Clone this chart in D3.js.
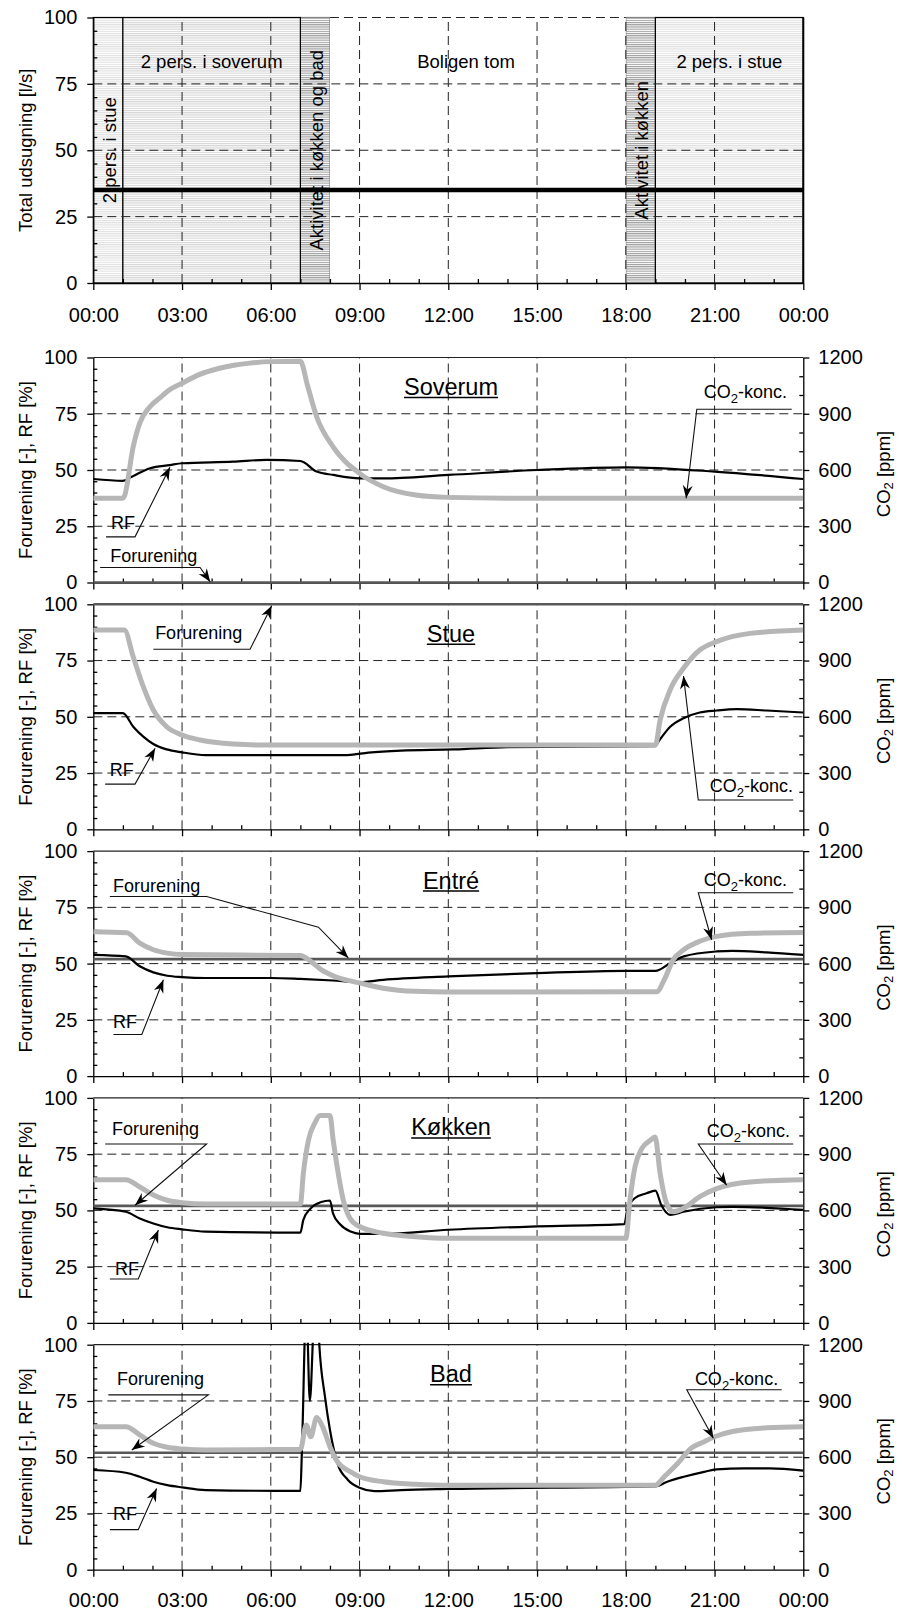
<!DOCTYPE html>
<html>
<head>
<meta charset="utf-8">
<script src="https://cdn.jsdelivr.net/npm/d3@7"></script>
<style>
    body { margin: 0; background: #fff; }
    text { font-family: "Liberation Sans", Arial, sans-serif; fill: #000; }
</style>
</head>
<body>
<div id="chart"></div>
<script>
// ---- data ----
// top panel: activity periods (hours) and total exhaust [l/s]
const activities = [
    { from: 7, to: 8, label: "Aktivitet i køkken og bad", kind: "activity", vertical: true },
    { from: 18, to: 19, label: "Aktivitet i køkken", kind: "activity", vertical: true },
    { from: 0, to: 1, label: "2 pers. i stue", kind: "stue", vertical: true },
    { from: 1, to: 7, label: "2 pers. i soverum", kind: "soverum", vertical: false },
    { from: 8, to: 18, label: "Boligen tom", kind: "empty", vertical: false },
    { from: 19, to: 24, label: "2 pers. i stue", kind: "stue", vertical: false },
]
const totalFlow = [[0, 35], [24, 35]]

const rooms = ["Soverum", "Stue", "Entré", "Køkken", "Bad"]

// [hour, ppm]
const soverumCO2 = [[0, 450], [1, 450], [1.05, 460], [1.35, 725], [1.57, 850], [1.9, 935], [2.25, 985], [2.6, 1030], [3, 1063],
    [3.6, 1110], [4.2, 1140], [4.8, 1160], [5.3, 1170], [6, 1178], [7, 1180], [7.25, 1045], [7.55, 884], [8.1, 725], [9, 582],
    [9.8, 511], [10.9, 467], [12, 454], [14, 450], [24, 450]]
const stueCO2 = [[0, 1063], [1.05, 1063], [1.35, 920], [1.69, 761], [2.03, 636], [2.48, 547], [3, 503], [3.61, 476], [4.73, 455],
    [6, 449], [12, 449], [19, 449], [19.16, 583], [19.5, 744], [19.95, 859], [20.5, 956], [21.07, 1001], [22.2, 1045], [24, 1063]]
const entreCO2 = [[0, 770], [1.13, 765], [1.57, 709], [2.03, 674], [2.5, 656], [3, 648], [7, 643], [7.35, 612], [7.7, 568],
    [8.15, 532], [9, 497], [9.8, 469], [10.9, 452], [12, 448], [19.05, 450], [19.3, 514], [19.6, 620], [19.96, 674], [20.5, 719],
    [21.07, 745], [22.2, 762], [24, 766]]
const kokkenCO2 = [[0, 764], [1.1, 764], [1.57, 725], [2.03, 682], [2.5, 654], [3, 641], [3.8, 634], [7, 634], [7.1, 797],
    [7.27, 973], [7.5, 1070], [7.66, 1106], [8, 1106], [8.11, 973], [8.28, 797], [8.45, 655], [8.68, 557], [9, 514], [9.8, 478],
    [10.9, 460], [12, 451], [18, 451], [18.14, 655], [18.31, 832], [18.54, 929], [18.82, 973], [18.99, 991], [19.16, 797],
    [19.38, 637], [19.61, 593], [19.95, 611], [20.5, 673], [21.07, 716], [22.2, 752], [24, 764]]
const badCO2 = [[0, 763], [1.1, 763], [1.57, 719], [2.03, 674], [2.5, 653], [3, 644], [3.8, 638], [7, 642], [7.2, 772],
    [7.35, 709], [7.55, 812], [7.75, 763], [8, 656], [8.25, 576], [8.7, 522], [9, 496], [9.8, 469], [10.9, 456], [12, 451],
    [19, 451], [19.3, 496], [19.75, 566], [20.2, 647], [20.65, 683], [21.07, 713], [21.6, 737], [22.76, 757], [24, 763]]

// [hour, RF %]
const soverumRF = [[0, 46.0], [1, 45.2], [1.3, 47.0], [1.92, 50.8], [2.59, 52.2], [3, 53.0], [4.73, 53.7], [5.86, 54.5], [7, 54.0],
    [7.55, 49.3], [8.11, 47.8], [9, 46.3], [9.8, 46.3], [12, 47.8], [15, 50.0], [18, 51.2], [21, 49.3], [24, 46.0]]
const stueRF = [[0, 51.6], [1, 51.6], [1.35, 45.6], [1.69, 41.2], [2.03, 37.9], [2.48, 35.5], [3, 34.2], [3.8, 33.0], [6, 33.0],
    [8.6, 33.0], [9.3, 34.1], [10.4, 35.0], [12.2, 35.5], [14, 36.5], [19, 37.0], [19.1, 38.9], [19.5, 45.6], [19.95, 49.4],
    [20.5, 51.9], [21.07, 52.8], [21.75, 53.4], [22.76, 52.8], [24, 51.9]]
const entreRF = [[0, 53.9], [1.1, 53.2], [1.57, 48.8], [2.03, 46.1], [2.5, 44.6], [3, 44.0], [3.8, 43.6], [6, 43.6], [7, 43.2],
    [8.1, 42.5], [9, 41.8], [9.8, 42.8], [12, 44.3], [15, 45.8], [18, 46.8], [19, 46.8], [19.5, 50.2], [19.96, 53.2],
    [21.07, 55.4], [21.6, 55.7], [22.76, 55.0], [24, 53.9]]
const kokkenRF = [[0, 50.9], [1.1, 49.4], [1.57, 46.4], [2.03, 44.2], [2.5, 42.5], [3, 41.6], [3.8, 40.6], [7, 40.1], [7.1, 45.8],
    [7.35, 50.9], [7.7, 53.7], [8, 54.4], [8.1, 48.8], [8.35, 43.7], [8.7, 40.6], [9, 39.6], [9.8, 39.6], [12, 41.4], [15, 42.9],
    [17.95, 43.9], [18.05, 50.2], [18.3, 55.4], [18.7, 57.6], [19, 58.8], [19.2, 52.4], [19.5, 48.0], [19.95, 49.4],
    [21.07, 51.4], [21.6, 51.6], [24, 50.2]]
const badRF = [[0, 44.3], [1.1, 43.1], [1.57, 41.3], [2.03, 39.1], [2.5, 37.6], [3, 36.6], [3.8, 35.4], [7, 35.0], [7.05, 52],
    [7.2, 118], [7.32, 75], [7.45, 110], [7.55, 125], [7.64, 100], [7.83, 77], [8, 62.1], [8.25, 47.4], [8.6, 40], [9, 36.4],
    [9.5, 34.9], [10.4, 35.4], [12, 35.9], [18, 36.8], [19, 37.0], [19.4, 39.1], [19.96, 41.3], [20.65, 43.5], [21.07, 44.6],
    [22, 45], [22.87, 45], [24, 44]]

// [hour, forurening]
const soverumForurening = [[0, 0], [24, 0]]
const stueForurening = [[0, 100], [24, 100]]
const entreForurening = [[0, 52], [24, 52]]
const kokkenForurening = [[0, 52], [24, 52]]
const badForurening = [[0, 52], [24, 52]]

// leader annotations, in (hour, left-axis units)
const soverumNotes = [
    { text: "RF", at: [0.6, 23.7], pts: [[0.43, 20.3], [1.41, 20.3], [2.59, 51.2]] },
    { text: "Forurening", at: [0.57, 9.0], pts: [[0.23, 6.7], [3.61, 6.7], [3.95, 0.3]] },
    { text: "CO2", at: [23.45, 82.1], pts: [[23.61, 77.0], [20.4, 77.0], [20.04, 37.4]] },
]
const stueNotes = [
    { text: "RF", at: [0.56, 23.8], pts: [[0.4, 20.1], [1.41, 20.1], [2.09, 36]] },
    { text: "Forurening", at: [2.09, 84.7], pts: [[2.03, 80], [5.3, 80], [6.03, 99.4]] },
    { text: "CO2", at: [23.65, 16.4], pts: [[23.66, 13.0], [20.45, 13.0], [19.95, 68.1]] },
]
const entreNotes = [
    { text: "Forurening", at: [0.67, 82.0], pts: [[0.56, 79.8], [3.83, 79.8], [7.61, 66.2], [8.62, 52.5]] },
    { text: "RF", at: [0.67, 21.6], pts: [[0.68, 18.5], [1.64, 18.5], [2.37, 42.8]] },
    { text: "CO2", at: [23.45, 84.3], pts: [[23.66, 81.5], [20.45, 81.5], [20.9, 60.6]] },
]
const kokkenNotes = [
    { text: "Forurening", at: [0.63, 83.3], pts: [[0.4, 79.5], [3.83, 79.5], [1.41, 52.3]] },
    { text: "RF", at: [0.73, 21.1], pts: [[0.56, 19.5], [1.52, 19.5], [2.2, 41.3]] },
    { text: "CO2", at: [23.55, 82.5], pts: [[23.66, 79.5], [20.45, 79.5], [21.41, 61.2]] },
]
const badNotes = [
    { text: "Forurening", at: [0.8, 82.2], pts: [[0.51, 77.7], [3.89, 77.7], [1.3, 53.2]] },
    { text: "RF", at: [0.67, 22], pts: [[0.56, 17.8], [1.52, 17.8], [2.14, 36.1]] },
    { text: "CO2", at: [23.15, 82.2], pts: [[23.27, 80], [20.06, 80], [20.96, 58.4]] },
]

const co2All = [soverumCO2, stueCO2, entreCO2, kokkenCO2, badCO2]
const rfAll = [soverumRF, stueRF, entreRF, kokkenRF, badRF]
const forAll = [soverumForurening, stueForurening, entreForurening, kokkenForurening, badForurening]
const notesAll = [soverumNotes, stueNotes, entreNotes, kokkenNotes, badNotes]

// ---- layout ----
const W = 902, H = 1612
const left = 93.3, right = 803.3
const font = 'Liberation Sans, Arial, sans-serif'

const svg = d3.select('#chart').append('svg').attr('width', W).attr('height', H)
const defs = svg.append('defs')

const hatch = (id, color) => {
    const p = defs.append('pattern').attr('id', id)
        .attr('patternUnits', 'userSpaceOnUse').attr('width', 4).attr('height', 2.2)
    p.append('rect').attr('width', 4).attr('height', 2.2).attr('fill', '#fff')
    p.append('rect').attr('width', 4).attr('height', 1.1).attr('fill', color)
}
hatch('stue', '#e0e0e0')
hatch('soverum', '#d4d4d4')
hatch('activity', '#9c9c9c')
hatch('empty', '#fff')

defs.append('marker').attr('id', 'arrow')
    .attr('viewBox', '-14 -6 16 12').attr('refX', 0).attr('refY', 0)
    .attr('markerWidth', 16).attr('markerHeight', 12)
    .attr('markerUnits', 'userSpaceOnUse').attr('orient', 'auto')
    .append('path').attr('d', 'M0,0 L-13,-5 L-9,0 L-13,5 Z').attr('fill', '#000')

const x = d3.scaleLinear().domain([0, 24]).range([left, right])
const fmtHour = h => String(h % 24).padStart(2, '0') + ':00'

const styleAxis = g => {
    g.attr('font-size', 20).attr('font-family', font)
    g.selectAll('path,line').attr('stroke', '#000').attr('stroke-width', 1.3)
    g.selectAll('text').attr('fill', '#000')
}
const dash = '9,5'

const addCO2Text = (sel) => {
    sel.append('tspan').text('CO')
    sel.append('tspan').text('2').attr('font-size', 13).attr('dy', 5)
    sel.append('tspan').text('-konc.').attr('dy', -5)
}

// ---- top panel ----
const topY = d3.scaleLinear().domain([0, 100]).range([283, 17.5])
const gTop = svg.append('g')

gTop.selectAll('rect.act').data(activities).join('rect')
    .attr('class', 'act')
    .attr('x', d => x(d.from)).attr('width', d => x(d.to) - x(d.from))
    .attr('y', topY(100)).attr('height', topY(0) - topY(100))
    .attr('fill', d => `url(#${d.kind})`)
    .attr('stroke', d => d.kind == 'activity' ? '#808080' : (d.kind == 'empty' ? 'none' : '#000'))
    .attr('stroke-width', 1.2)

// grid
gTop.selectAll('line.hg').data([25, 50, 75]).join('line')
    .attr('x1', left).attr('x2', right).attr('y1', d => topY(d)).attr('y2', d => topY(d))
    .attr('stroke', '#222').attr('stroke-dasharray', dash)
gTop.append('line').attr('x1', x(8)).attr('x2', x(18)).attr('y1', topY(100)).attr('y2', topY(100))
    .attr('stroke', '#222').attr('stroke-dasharray', dash)
gTop.selectAll('line.vg').data(d3.range(3, 24, 3)).join('line')
    .attr('x1', d => x(d)).attr('x2', d => x(d)).attr('y1', topY(0)).attr('y2', topY(100))
    .attr('stroke', '#222').attr('stroke-dasharray', dash)
gTop.append('line').attr('x1', x(24)).attr('x2', x(24)).attr('y1', topY(0)).attr('y2', topY(100))
    .attr('stroke', '#000').attr('stroke-width', 2)

gTop.append('path').datum(totalFlow)
    .attr('fill', 'none').attr('stroke', '#000').attr('stroke-width', 4.5)
    .attr('d', d3.line().x(d => x(d[0])).y(d => topY(d[1])))

// activity labels
activities.forEach(d => {
    const cx = x((d.from + d.to) / 2)
    if (d.vertical) {
        gTop.append('text')
            .attr('transform', `translate(${cx + 1},${topY(50)}) rotate(-90)`)
            .attr('text-anchor', 'middle').attr('dominant-baseline', 'central')
            .attr('font-size', 18.5).text(d.label)
    } else {
        const c = d.kind == 'empty' ? x(12.6) : cx
        gTop.append('text').attr('x', c).attr('y', topY(81))
            .attr('text-anchor', 'middle').attr('font-size', 18.5).text(d.label)
    }
})

gTop.append('g').attr('transform', `translate(${left},0)`)
    .call(d3.axisLeft(topY).tickValues([0, 25, 50, 75, 100]).tickSize(6).tickSizeOuter(0).tickPadding(10))
    .call(styleAxis)
gTop.append('g').attr('transform', `translate(${left},0)`)
    .call(d3.axisLeft(topY).tickValues(d3.range(5, 100, 5).filter(v => v % 25)).tickSize(-4).tickFormat(''))
    .call(styleAxis).call(g => g.select('.domain').remove())
gTop.append('g').attr('transform', `translate(0,${topY(0)})`)
    .call(d3.axisBottom(x).tickValues(d3.range(0, 25, 3)).tickSize(7).tickSizeOuter(0).tickPadding(18).tickFormat(fmtHour))
    .call(styleAxis)
gTop.append('g').attr('transform', `translate(0,${topY(0)})`)
    .call(d3.axisBottom(x).tickValues(d3.range(1, 24).filter(h => h % 3)).tickSize(-4).tickFormat(''))
    .call(styleAxis).call(g => g.select('.domain').remove())

gTop.append('text')
    .attr('transform', `translate(25,${topY(50)}) rotate(-90)`)
    .attr('text-anchor', 'middle').attr('dominant-baseline', 'central')
    .attr('font-size', 18.5).text('Total udsugning [l/s]')

// ---- room panels ----
const tops = [357.5, 604.3, 851.1, 1097.9, 1344.7]
const ph = 225
const curve = d3.curveMonotoneX

rooms.forEach((room, i) => {
    const top = tops[i], bottom = top + ph
    const yL = d3.scaleLinear().domain([0, 100]).range([bottom, top])
    const yR = d3.scaleLinear().domain([0, 1200]).range([bottom, top])
    const g = svg.append('g')

    g.append('clipPath').attr('id', 'clip' + i).append('rect')
        .attr('x', left).attr('y', top - 2).attr('width', right - left).attr('height', ph + 4)

    // grid
    g.selectAll('line.hg').data([25, 50, 75]).join('line')
        .attr('x1', left).attr('x2', right).attr('y1', d => yL(d)).attr('y2', d => yL(d))
        .attr('stroke', '#222').attr('stroke-dasharray', dash)
    g.selectAll('line.vg').data(d3.range(3, 24, 3)).join('line')
        .attr('x1', d => x(d)).attr('x2', d => x(d)).attr('y1', bottom).attr('y2', top)
        .attr('stroke', '#222').attr('stroke-dasharray', dash)
    g.append('line').attr('x1', left).attr('x2', right).attr('y1', top).attr('y2', top)
        .attr('stroke', '#222').attr('stroke-width', 1.2)

    // axes
    g.append('g').attr('transform', `translate(${left},0)`)
        .call(d3.axisLeft(yL).tickValues([0, 25, 50, 75, 100]).tickSize(6).tickSizeOuter(0).tickPadding(10))
        .call(styleAxis)
    g.append('g').attr('transform', `translate(${left},0)`)
        .call(d3.axisLeft(yL).tickValues(d3.range(5, 100, 5).filter(v => v % 25)).tickSize(-4).tickFormat(''))
        .call(styleAxis).call(s => s.select('.domain').remove())
    g.append('g').attr('transform', `translate(${right},0)`)
        .call(d3.axisRight(yR).tickValues(d3.range(0, 1201, 300)).tickSize(6).tickSizeOuter(0).tickPadding(9)
            .tickFormat(d3.format('d')))
        .call(styleAxis)
    g.append('g').attr('transform', `translate(${right},0)`)
        .call(d3.axisRight(yR).tickValues(d3.range(100, 1200, 100).filter(v => v % 300)).tickSize(-4).tickFormat(''))
        .call(styleAxis).call(s => s.select('.domain').remove())
    g.append('g').attr('transform', `translate(0,${bottom})`)
        .call(d3.axisBottom(x).tickValues(d3.range(0, 25, 3)).tickSize(7).tickSizeOuter(0).tickPadding(16)
            .tickFormat(i == rooms.length - 1 ? fmtHour : ''))
        .call(styleAxis)
    g.append('g').attr('transform', `translate(0,${bottom})`)
        .call(d3.axisBottom(x).tickValues(d3.range(1, 24).filter(h => h % 3)).tickSize(-4).tickFormat(''))
        .call(styleAxis).call(s => s.select('.domain').remove())

    // series
    const lines = g.append('g').attr('clip-path', `url(#clip${i})`)
    lines.append('path').datum(forAll[i])
        .attr('fill', 'none').attr('stroke', '#585858').attr('stroke-width', 2.6)
        .attr('d', d3.line().x(d => x(d[0])).y(d => yL(d[1])))
    lines.append('path').datum(rfAll[i])
        .attr('fill', 'none').attr('stroke', '#000').attr('stroke-width', 2.2).attr('stroke-linejoin', 'round')
        .attr('d', d3.line().curve(curve).x(d => x(d[0])).y(d => yL(d[1])))
    lines.append('path').datum(co2All[i])
        .attr('fill', 'none').attr('stroke', '#b6b6b6').attr('stroke-width', 5).attr('stroke-linejoin', 'round')
        .attr('d', d3.line().curve(curve).x(d => x(d[0])).y(d => yR(d[1])))

    // title
    const t = g.append('text').attr('x', 451).attr('y', top + 37.5)
        .attr('text-anchor', 'middle').attr('font-size', 23.5).text(room)
    const tw = t.node().getComputedTextLength()
    g.append('line').attr('x1', 451 - tw / 2).attr('x2', 451 + tw / 2)
        .attr('y1', top + 40).attr('y2', top + 40).attr('stroke', '#000').attr('stroke-width', 1.5)

    // annotations
    notesAll[i].forEach(n => {
        g.append('path').datum(n.pts)
            .attr('fill', 'none').attr('stroke', '#111').attr('stroke-width', 1.1)
            .attr('marker-end', 'url(#arrow)')
            .attr('d', d3.line().x(d => x(d[0])).y(d => yL(d[1])))
        const txt = g.append('text').attr('x', x(n.at[0])).attr('y', yL(n.at[1])).attr('font-size', 18)
        if (n.text == 'CO2') {
            txt.attr('text-anchor', 'end').call(addCO2Text)
        } else {
            txt.text(n.text)
        }
    })

    // axis titles
    g.append('text')
        .attr('transform', `translate(25,${(top + bottom) / 2}) rotate(-90)`)
        .attr('text-anchor', 'middle').attr('dominant-baseline', 'central')
        .attr('font-size', 18.5).text('Forurening [-], RF [%]')
    const rt = g.append('text')
        .attr('transform', `translate(883,${(top + bottom) / 2 + 4}) rotate(-90)`)
        .attr('text-anchor', 'middle').attr('dominant-baseline', 'central')
        .attr('font-size', 18.5)
    rt.append('tspan').text('CO')
    rt.append('tspan').text('2').attr('font-size', 13).attr('dy', 5)
    rt.append('tspan').text(' [ppm]').attr('dy', -5)
})
</script>
</body>
</html>
